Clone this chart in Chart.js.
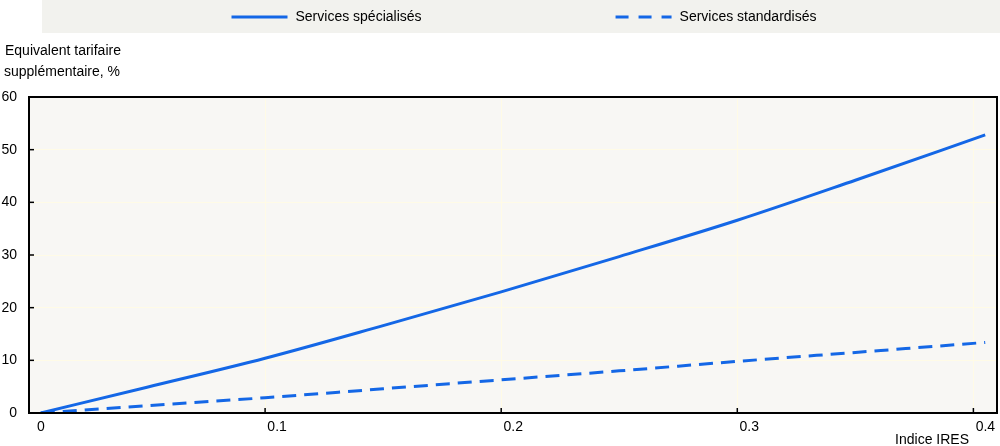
<!DOCTYPE html>
<html>
<head>
<meta charset="utf-8">
<script src="https://cdn.jsdelivr.net/npm/chart.js@4/dist/chart.umd.min.js"></script>
<style>
  html, body { margin: 0; padding: 0; background: #fff; }
  #chart { display: block; }
</style>
</head>
<body>
<canvas id="chart" width="1000" height="446"></canvas>
<script>
"use strict";

// IRES index values (x)
const iresIndex = [0.005, 0.05, 0.1, 0.15, 0.2, 0.25, 0.3, 0.35, 0.405]
// additional tariff equivalent, %
const specialised = [0, 4.9, 10.4, 16.6, 23.0, 29.7, 36.6, 44.2, 52.8]
const standardised = [0, 1.4, 2.9, 4.6, 6.3, 8.0, 9.8, 11.5, 13.4]

const seriesNames = ["Services spécialisés", "Services standardisés"]
const yTitle = ["Equivalent tarifaire", "supplémentaire, %"]
const xTitle = "Indice IRES"

const FONT = "'Liberation Sans Narrow', 'Arial Narrow', 'Liberation Sans', sans-serif"
const BLUE = '#1467e6'
const PLOT_BG = '#f8f7f4'
const GRID = '#fffbe6'
const LEGEND_BG = '#f2f2ee'

Chart.defaults.font.family = FONT
Chart.defaults.font.size = 14
Chart.defaults.color = '#000'

const toPoints = (ys) => ys.map((y, i) => ({ x: iresIndex[i], y }))

const decorations = {
	id: 'decorations',
	beforeDraw(chart) {
		const { ctx, chartArea: a } = chart
		ctx.save()
		ctx.fillStyle = PLOT_BG
		ctx.fillRect(a.left, a.top, a.right - a.left, a.bottom - a.top)
		// legend band
		ctx.fillStyle = LEGEND_BG
		ctx.fillRect(42, 0, chart.width - 42, 33)
		ctx.restore()
	},
	afterDraw(chart) {
		const { ctx, chartArea: a, scales } = chart
		ctx.save()

		// inward tick marks
		ctx.strokeStyle = '#000'
		ctx.lineWidth = 1.5
		scales.y.ticks.forEach(t => {
			const y = scales.y.getPixelForValue(t.value)
			ctx.beginPath(); ctx.moveTo(a.left, y); ctx.lineTo(a.left + 5, y); ctx.stroke()
		})
		scales.x.ticks.forEach(t => {
			const x = scales.x.getPixelForValue(t.value)
			ctx.beginPath(); ctx.moveTo(x, a.bottom); ctx.lineTo(x, a.bottom - 5); ctx.stroke()
		})

		// frame
		ctx.lineWidth = 2
		ctx.strokeRect(a.left, a.top, a.right - a.left, a.bottom - a.top)

		// axis titles
		ctx.fillStyle = '#000'
		ctx.font = '14px ' + FONT
		ctx.textAlign = 'left'
		ctx.textBaseline = 'alphabetic'
		ctx.fillText(yTitle[0], 5, 55)
		ctx.fillText(yTitle[1], 4, 76)
		ctx.textAlign = 'right'
		ctx.fillText(xTitle, 969, 444)

		// legend
		const sample = 56, gap = 8, between = 194
		const items = chart.data.datasets.map(ds => ({
			ds, w: sample + gap + ctx.measureText(ds.label).width
		}))
		const total = items.reduce((s, it) => s + it.w, 0) + between * (items.length - 1)
		let x = (42 + chart.width) / 2 + 3 - total / 2
		const ly = 17
		ctx.textAlign = 'left'
		ctx.textBaseline = 'middle'
		items.forEach(it => {
			ctx.strokeStyle = it.ds.borderColor
			ctx.lineWidth = 3
			ctx.setLineDash(it.ds.borderDash && it.ds.borderDash.length ? [13, 10] : [])
			ctx.beginPath(); ctx.moveTo(x, ly); ctx.lineTo(x + sample, ly); ctx.stroke()
			ctx.setLineDash([])
			ctx.fillText(it.ds.label, x + sample + gap, ly)
			x += it.w + between
		})

		ctx.restore()
	}
}

new Chart(document.getElementById('chart').getContext('2d'), {
	type: 'line',
	data: {
		datasets: [{
			label: seriesNames[0],
			data: toPoints(specialised),
			borderColor: BLUE,
			borderWidth: 3,
			pointRadius: 0,
			cubicInterpolationMode: 'monotone'
		}, {
			label: seriesNames[1],
			data: toPoints(standardised),
			borderColor: BLUE,
			borderWidth: 3,
			borderDash: [14, 8],
			pointRadius: 0,
			cubicInterpolationMode: 'monotone'
		}]
	},
	options: {
		responsive: false,
		animation: false,
		layout: { padding: { top: 97, right: 3, left: 0, bottom: 0 } },
		plugins: {
			legend: { display: false },
			tooltip: { enabled: false }
		},
		scales: {
			x: {
				type: 'linear',
				min: 0,
				max: 0.41,
				afterFit: (s) => { s.height = 33 },
				border: { display: false },
				grid: {
					color: (c) => c.tick && c.tick.value === 0 ? 'rgba(0,0,0,0)' : GRID,
					lineWidth: 1,
					drawTicks: false
				},
				ticks: {
					stepSize: 0.1,
					includeBounds: false,
					padding: 6,
					labelOffset: 12,
					maxRotation: 0,
					callback: (v) => String(+(+v).toFixed(1))
				}
			},
			y: {
				min: 0,
				max: 60,
				afterFit: (s) => { s.width = 29 },
				border: { display: false },
				grid: {
					color: (c) => c.tick && (c.tick.value === 0 || c.tick.value === 60) ? 'rgba(0,0,0,0)' : GRID,
					lineWidth: 1,
					drawTicks: false
				},
				ticks: {
					stepSize: 10,
					padding: 12
				}
			}
		}
	},
	plugins: [decorations]
})
</script>
</body>
</html>
